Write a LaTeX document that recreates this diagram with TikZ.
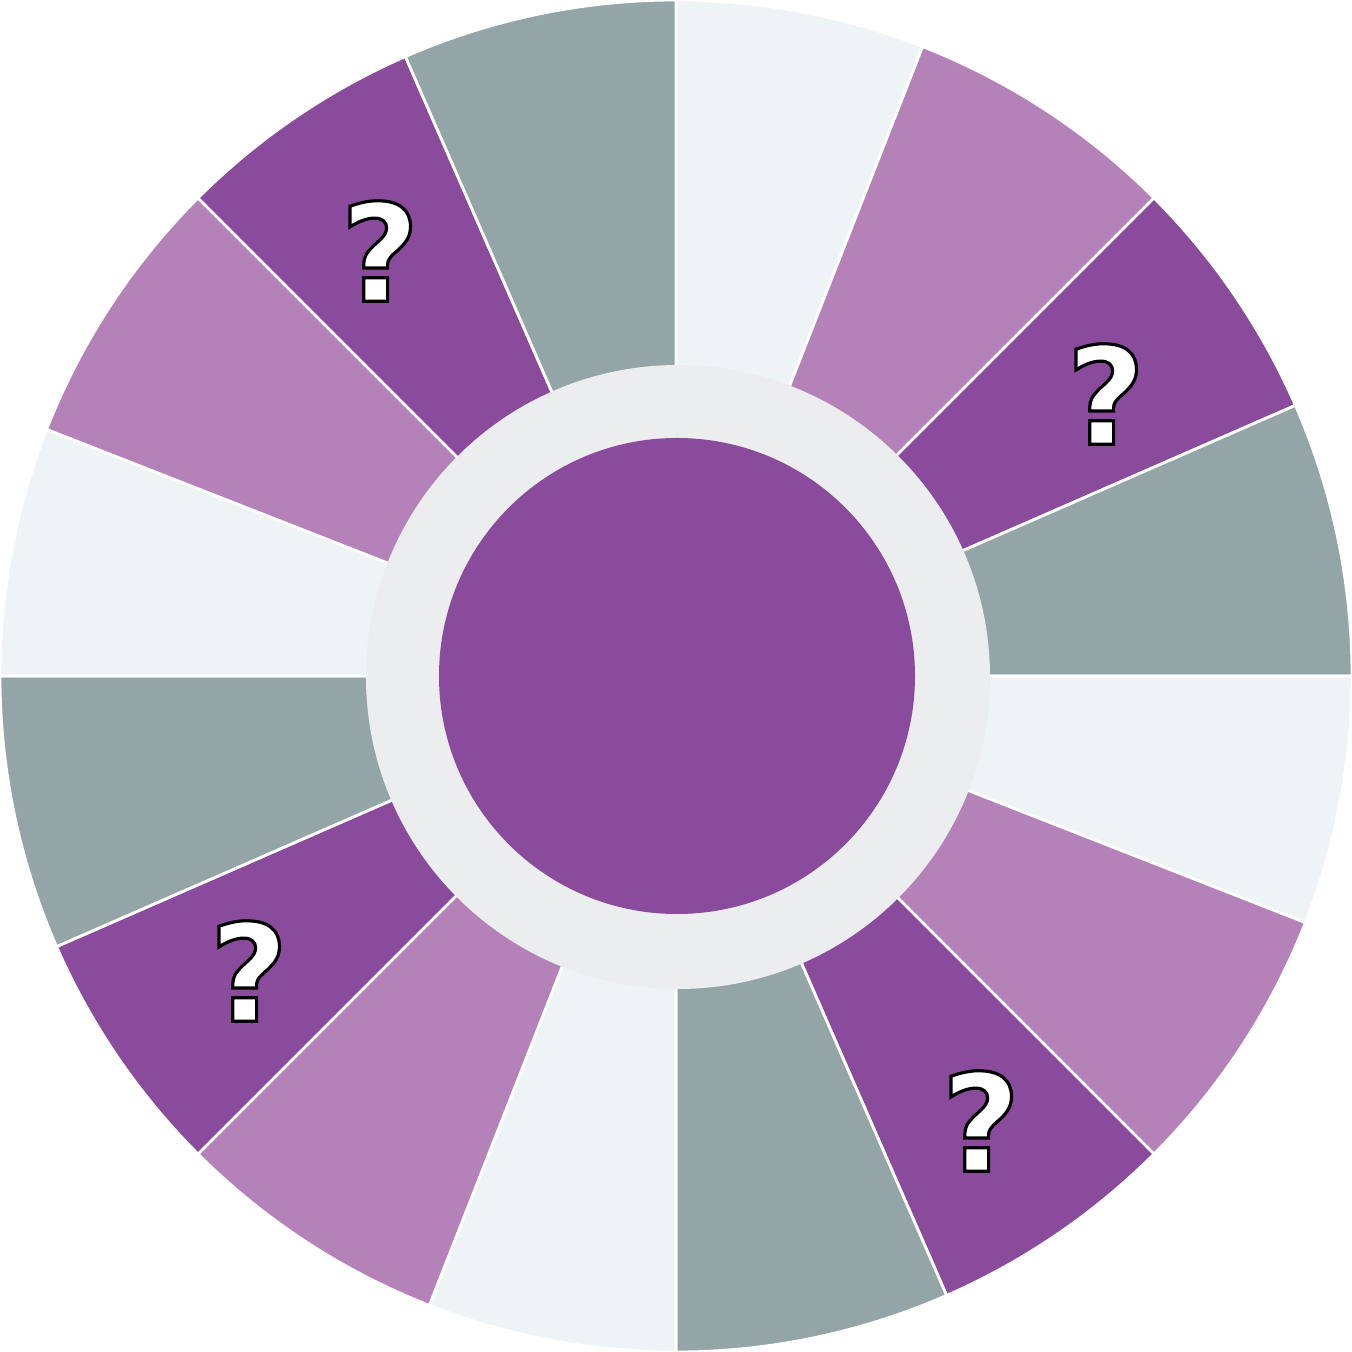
\documentclass[tikz,border=0pt]{standalone}
\usepackage{fontspec}
\usepackage{xcolor}
\usepackage{tikz}
\newfontfamily\qfont{DejaVu Sans}
\definecolor{wheelpale}{HTML}{EEF3F5}
\definecolor{wheellilac}{HTML}{B482B8}
\definecolor{wheelplum}{HTML}{8A4B9D}
\definecolor{wheelgray}{HTML}{94A5A7}
\definecolor{wheelring}{HTML}{ECEDEF}
% white glyph with a thin black outline
\newcommand{\outl}[1]{\special{pdf:literal direct 2 Tr 0.9 w 0 G}#1\special{pdf:literal direct 0 Tr}}

\begin{document}
\begin{tikzpicture}[x=0.01cm,y=0.01cm,
  seg/.style={draw=white,line width=0.8pt},
  qmark/.style={font=\qfont\bfseries\fontsize{38.5}{38.5}\selectfont,text=white,inner sep=0pt}]
  \useasboundingbox (-676,-676) rectangle (676,676);
  % sectors, four per quadrant
  \foreach \q in {0,90,180,270} {
    \foreach \s/\e/\c in {0/21.4/wheelpale,21.4/45/wheellilac,45/66.4/wheelplum,66.4/90/wheelgray} {
      \filldraw[seg,fill=\c] (0,0) -- (90-\q-\s:676)
        arc[start angle=90-\q-\s, end angle=90-\q-\e, radius=676] -- cycle;
    }
  }
  % hub
  \fill[wheelring] (2,-1) circle (312);
  \fill[wheelplum] (1,0) circle (238);
  % question marks
  \node[qmark] (q1) at (-296,425) {\outl{?}};
  \node[qmark] (q2) at (430,282) {\outl{?}};
  \node[qmark] (q3) at (305,-445) {\outl{?}};
  \node[qmark] (q4) at (-427,-295) {\outl{?}};
\end{tikzpicture}
\end{document}
